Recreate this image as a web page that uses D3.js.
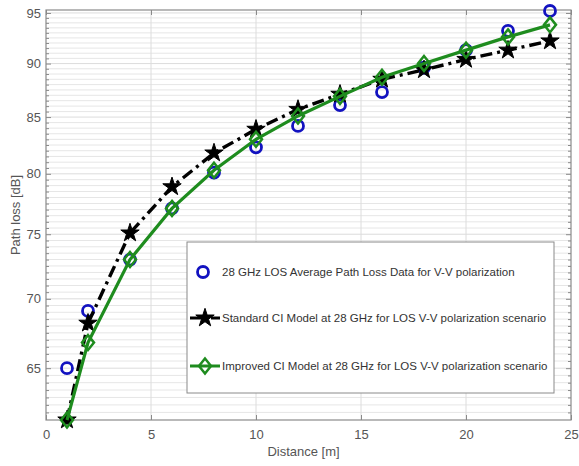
<!DOCTYPE html>
<html>
<head>
<meta charset="utf-8">
<script src="https://cdn.jsdelivr.net/npm/d3@7"></script>
<style>
  html, body { margin: 0; padding: 0; background: #fff; }
  svg { display: block; font-family: "Liberation Sans", Arial, sans-serif; }
</style>
</head>
<body>
<svg id="chart" width="579" height="466"></svg>
<script>
// ---- data ----
const distances = [1, 2, 4, 6, 8, 10, 12, 14, 16, 18, 20, 22, 24];
const measuredPL = [65.0, 69.1, 73.0, 77.1, 80.1, 82.3, 84.2, 86.1, 87.3, 89.6, 91.3, 93.2, 95.2];
const standardCI = [61.5, 68.2, 75.1, 78.9, 81.8, 83.9, 85.7, 87.1, 88.5, 89.4, 90.4, 91.3, 92.2];
const improvedCI = [61.5, 66.8, 73.0, 77.1, 80.3, 83.0, 85.1, 86.9, 88.7, 90.0, 91.3, 92.6, 93.8];
const xTicks = [0, 5, 10, 15, 20, 25];
const yTicks = [65, 70, 75, 80, 85, 90, 95];
const legendLabels = [
  "28 GHz LOS Average Path Loss Data for V-V polarization",
  "Standard CI Model at 28 GHz for LOS V-V polarization scenario",
  "Improved CI Model at 28 GHz for LOS V-V polarization scenario"
];
const xLabel = "Distance [m]";
const yLabel = "Path loss [dB]";

// ---- layout ----
const L = 46, R = 571, T = 10, B = 420;
const svg = d3.select("#chart");
const x = d3.scaleLinear().domain([0, 25]).range([L, R]);
const y = d3.scaleLog().domain([61.5, 95.3]).range([B, T]);

const axisColor = "#8a8a8a";
const textColor = "#555";

// minor y values (every 0.5 dB)
const yMinor = d3.range(62, 95.3, 0.5).filter(v => yTicks.indexOf(v) < 0);

// grid
const grid = svg.append("g");
grid.selectAll(".ymin").data(yMinor).enter().append("line")
  .attr("x1", L).attr("x2", R)
  .attr("y1", d => y(d)).attr("y2", d => y(d))
  .attr("stroke", "#e6e6e6").attr("stroke-width", 1);
grid.selectAll(".ymaj").data(yTicks).enter().append("line")
  .attr("x1", L).attr("x2", R)
  .attr("y1", d => y(d)).attr("y2", d => y(d))
  .attr("stroke", "#dcdcdc").attr("stroke-width", 1);
grid.selectAll(".xmaj").data(xTicks.slice(1, -1)).enter().append("line")
  .attr("x1", d => x(d)).attr("x2", d => x(d))
  .attr("y1", T).attr("y2", B)
  .attr("stroke", "#dcdcdc").attr("stroke-width", 1);

// axes
const gx = svg.append("g").attr("transform", `translate(0,${B})`)
  .call(d3.axisBottom(x).tickValues(xTicks).tickSize(0).tickPadding(10).tickFormat(d3.format("d")));
const gxTop = svg.append("g").attr("transform", `translate(0,${T})`)
  .call(d3.axisBottom(x).tickValues(xTicks).tickSize(5).tickFormat(""));
const gxBot = svg.append("g").attr("transform", `translate(0,${B})`)
  .call(d3.axisTop(x).tickValues(xTicks).tickSize(5).tickFormat(""));
const gy = svg.append("g").attr("transform", `translate(${L},0)`)
  .call(d3.axisRight(y).tickValues(yTicks).tickSize(5).tickFormat(""));
const gyMinor = svg.append("g").attr("transform", `translate(${L},0)`)
  .call(d3.axisRight(y).tickValues(yMinor).tickSize(3).tickFormat(""));
const gyR = svg.append("g").attr("transform", `translate(${R},0)`)
  .call(d3.axisLeft(y).tickValues(yTicks).tickSize(5).tickFormat(""));
const gyRMinor = svg.append("g").attr("transform", `translate(${R},0)`)
  .call(d3.axisLeft(y).tickValues(yMinor).tickSize(3).tickFormat(""));
const gyLab = svg.append("g").attr("transform", `translate(${L},0)`)
  .call(d3.axisLeft(y).tickValues(yTicks).tickSize(0).tickPadding(5).tickFormat(d3.format("d")));

[gx, gxTop, gxBot, gy, gyMinor, gyR, gyRMinor, gyLab].forEach(g => {
  g.select(".domain").remove();
  g.selectAll(".tick line").attr("stroke", axisColor);
  g.selectAll("text").attr("fill", textColor).attr("font-size", 13)
    .attr("font-family", "Liberation Sans, Arial, sans-serif");
});

// box
svg.append("rect").attr("x", L).attr("y", T).attr("width", R - L).attr("height", B - T)
  .attr("fill", "none").attr("stroke", axisColor).attr("stroke-width", 1.2);

// labels
svg.append("text").attr("x", (L + R) / 2 - 5).attr("y", 456).attr("text-anchor", "middle")
  .attr("font-size", 13).attr("fill", textColor).text(xLabel);
svg.append("text").attr("transform", `translate(20,${(T + B) / 2}) rotate(-90)`)
  .attr("text-anchor", "middle").attr("font-size", 13).attr("fill", textColor).text(yLabel);

// series
const pts = vals => distances.map((d, i) => [d, vals[i]]);
const line = d3.line().x(d => x(d[0])).y(d => y(d[1]));
const blue = "#1212c0", green = "#1e8c1e", black = "#000";
const starSym = d3.symbol(d3.symbolStar, 105);
const diamondPath = "M0,-7.5L6,0L0,7.5L-6,0Z";
const dashDot = "12,5,3,5";

// measured circles
svg.append("g").selectAll("circle").data(pts(measuredPL)).enter().append("circle")
  .attr("cx", d => x(d[0])).attr("cy", d => y(d[1])).attr("r", 5.5)
  .attr("fill", "none").attr("stroke", blue).attr("stroke-width", 2.8);

// standard CI
svg.append("path").datum(pts(standardCI)).attr("d", line)
  .attr("fill", "none").attr("stroke", black).attr("stroke-width", 3.4)
  .attr("stroke-dasharray", dashDot);
svg.append("g").selectAll("path").data(pts(standardCI)).enter().append("path")
  .attr("d", starSym).attr("transform", d => `translate(${x(d[0])},${y(d[1])})`)
  .attr("fill", black).attr("stroke", black).attr("stroke-width", 1);

// improved CI
svg.append("path").datum(pts(improvedCI)).attr("d", line)
  .attr("fill", "none").attr("stroke", green).attr("stroke-width", 3.2);
svg.append("g").selectAll("path").data(pts(improvedCI)).enter().append("path")
  .attr("d", diamondPath).attr("transform", d => `translate(${x(d[0])},${y(d[1])})`)
  .attr("fill", "none").attr("stroke", green).attr("stroke-width", 2.5);

// legend
const lg = svg.append("g");
lg.append("rect").attr("x", 187).attr("y", 242).attr("width", 367).attr("height", 151)
  .attr("fill", "#fff").attr("stroke", axisColor).attr("stroke-width", 1);
const rows = [272, 318, 366];
// entry 1
lg.append("circle").attr("cx", 203).attr("cy", rows[0]).attr("r", 5.5)
  .attr("fill", "none").attr("stroke", blue).attr("stroke-width", 2.8);
// entry 2
lg.append("line").attr("x1", 190).attr("x2", 220).attr("y1", rows[1]).attr("y2", rows[1])
  .attr("stroke", black).attr("stroke-width", 3.2).attr("stroke-dasharray", "12,3,3,3");
lg.append("path").attr("d", starSym).attr("transform", `translate(205,${rows[1]})`)
  .attr("fill", black).attr("stroke", black).attr("stroke-width", 1);
// entry 3
lg.append("line").attr("x1", 190).attr("x2", 220).attr("y1", rows[2]).attr("y2", rows[2])
  .attr("stroke", green).attr("stroke-width", 3);
lg.append("path").attr("d", diamondPath).attr("transform", `translate(205,${rows[2]})`)
  .attr("fill", "none").attr("stroke", green).attr("stroke-width", 2.5);
lg.selectAll("text.lab").data(legendLabels).enter().append("text")
  .attr("x", 222).attr("y", (d, i) => rows[i] + 4)
  .attr("font-size", 11.5).attr("fill", "#333").text(d => d);
</script>
</body>
</html>
